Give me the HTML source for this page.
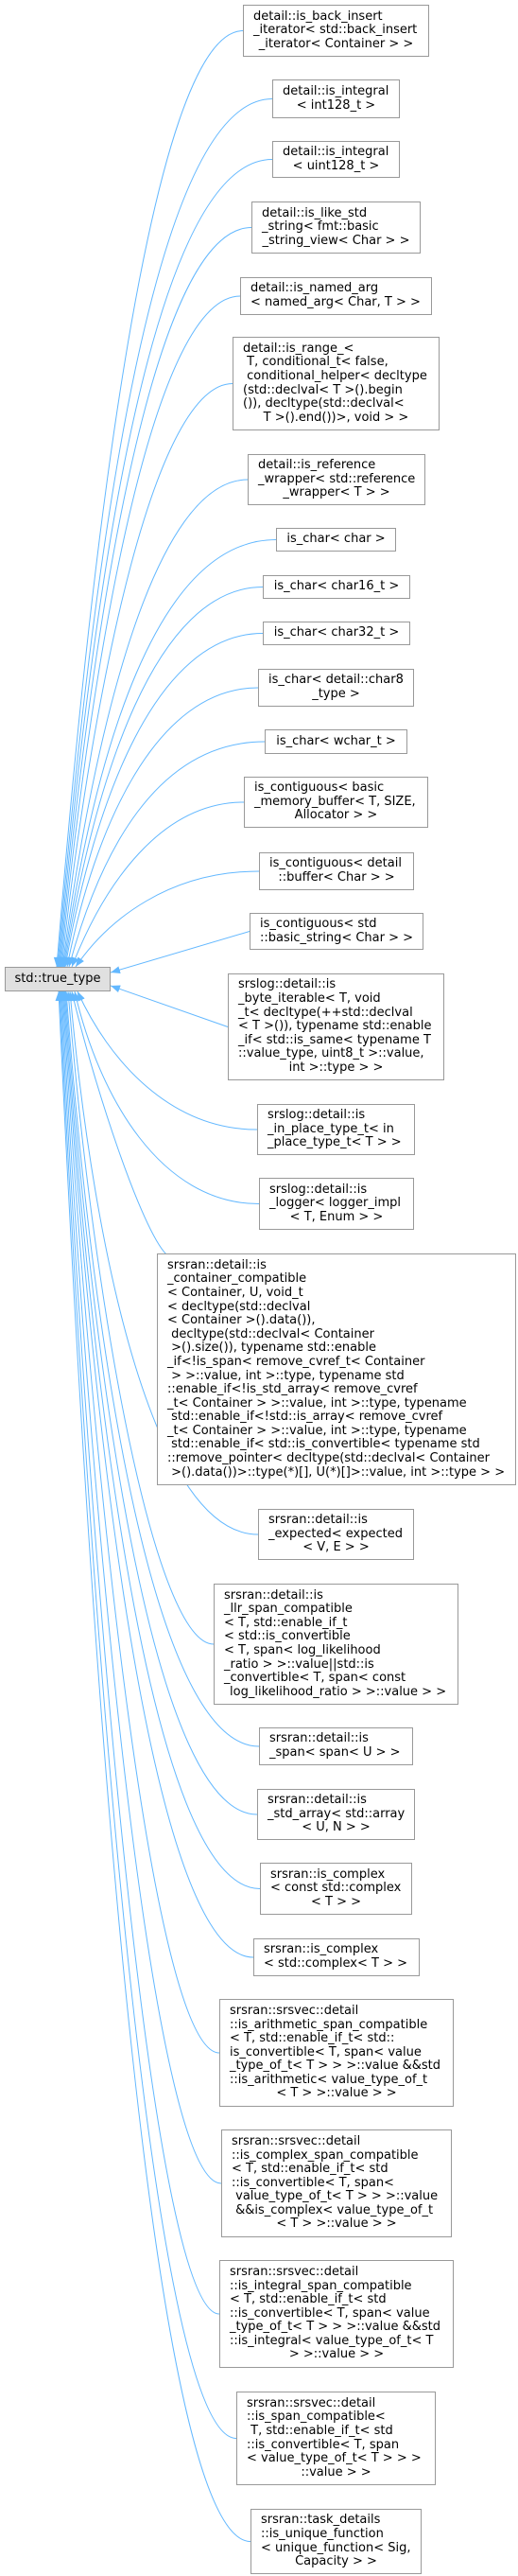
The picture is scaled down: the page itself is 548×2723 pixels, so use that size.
<!DOCTYPE html>
<html><head><meta charset="utf-8"><style>
html,body{margin:0;padding:0;background:#fff}
body{width:548px;height:2723px;position:relative;overflow:hidden;font-family:"DejaVu Sans","Liberation Sans",sans-serif;font-size:13px;color:#000}
.b{position:absolute;box-sizing:border-box;border:1px solid #999;background:#fff;display:flex;flex-direction:column;justify-content:center;padding:0 10px;line-height:14.6px;white-space:pre}
.b div:last-child{text-align:center}
.b div.l{text-align:left}
svg{position:absolute;left:0;top:0}
</style></head><body>
<svg width="548" height="2723" viewBox="0 0 548 2723">
<defs><marker id="a" markerUnits="userSpaceOnUse" markerWidth="11" markerHeight="9" refX="10" refY="4" orient="auto"><path d="M0,0 L10,4 L0,8 z" fill="#63b8ff"/></marker></defs>
<g fill="none" stroke="#63b8ff" stroke-width="1" marker-end="url(#a)">
<path d="M257,32.5 C165,32.5 100,527 60,1022"/>
<path d="M288,104.5 C165,104.5 100,563 61,1022"/>
<path d="M288,168.5 C165,168.5 100,595 62,1022"/>
<path d="M266,240.5 C165,240.5 100,631 63,1022"/>
<path d="M254,313 C165,313 100,667 64,1022"/>
<path d="M246,405.5 C165,405.5 100,714 65,1022"/>
<path d="M262,507 C165,507 100,764 66,1022"/>
<path d="M292,570.5 C165,570.5 100,796 67,1022"/>
<path d="M278,620.5 C165,620.5 100,821 68,1022"/>
<path d="M278,669.5 C165,669.5 100,846 69,1022"/>
<path d="M273,727 C165,727 100,874 71,1022"/>
<path d="M280,784 C165,784 105,903 73,1022"/>
<path d="M258,848 C170,848 110,935 76,1022"/>
<path d="M274,921 C180,921 115,971 80,1022"/>
<path d="M264,984.5 L117,1028"/>
<path d="M241,1085.5 L117,1042"/>
<path d="M272,1194 C180,1194 115,1121 82,1048"/>
<path d="M274,1272.5 C170,1272.5 105,1160 79,1048"/>
<path d="M176,1326 C150,1300 100,1150 76,1048"/>
<path d="M273,1622 C165,1622 100,1335 74,1048"/>
<path d="M226,1738 C165,1738 100,1393 72,1048"/>
<path d="M274,1846 C165,1846 100,1447 70,1048"/>
<path d="M272,1918 C165,1918 100,1483 69,1048"/>
<path d="M275,1996.5 C165,1996.5 100,1522 68,1048"/>
<path d="M268,2069 C165,2069 100,1558 67,1048"/>
<path d="M232,2170 C165,2170 100,1609 66,1048"/>
<path d="M234,2308 C165,2308 100,1678 65,1048"/>
<path d="M232,2446 C165,2446 100,1747 64,1048"/>
<path d="M250,2577.5 C165,2577.5 100,1813 63,1048"/>
<path d="M265,2686.5 C165,2686.5 100,1867 62,1048"/>
</g>
</svg>

<div class="b" style="left:5px;top:1022px;width:112px;height:26px;background:#e0e0e0;padding:0"><div>std::true_type</div></div>

<div class="b" style="left:257px;top:5px;width:197px;height:55px"><div>detail::is_back_insert</div><div>_iterator&lt; std::back_insert</div><div>_iterator&lt; Container &gt; &gt;</div></div>
<div class="b" style="left:288px;top:84px;width:135px;height:41px"><div>detail::is_integral</div><div>&lt; int128_t &gt;</div></div>
<div class="b" style="left:288px;top:149px;width:135px;height:39px"><div>detail::is_integral</div><div>&lt; uint128_t &gt;</div></div>
<div class="b" style="left:266px;top:213px;width:179px;height:55px"><div>detail::is_like_std</div><div>_string&lt; fmt::basic</div><div>_string_view&lt; Char &gt; &gt;</div></div>
<div class="b" style="left:254px;top:293px;width:203px;height:40px"><div>detail::is_named_arg</div><div class="l">&lt; named_arg&lt; Char, T &gt; &gt;</div></div>
<div class="b" style="left:246px;top:356px;width:219px;height:99px"><div>detail::is_range_&lt;</div><div> T, conditional_t&lt; false,</div><div> conditional_helper&lt; decltype</div><div>(std::declval&lt; T &gt;().begin</div><div>()), decltype(std::declval&lt;</div><div>T &gt;().end())&gt;, void &gt; &gt;</div></div>
<div class="b" style="left:262px;top:480px;width:188px;height:54px"><div>detail::is_reference</div><div>_wrapper&lt; std::reference</div><div>_wrapper&lt; T &gt; &gt;</div></div>
<div class="b" style="left:292px;top:558px;width:127px;height:25px"><div>is_char&lt; char &gt;</div></div>
<div class="b" style="left:278px;top:608px;width:156px;height:25px"><div>is_char&lt; char16_t &gt;</div></div>
<div class="b" style="left:278px;top:657px;width:156px;height:25px"><div>is_char&lt; char32_t &gt;</div></div>
<div class="b" style="left:273px;top:707px;width:165px;height:40px"><div>is_char&lt; detail::char8</div><div>_type &gt;</div></div>
<div class="b" style="left:280px;top:771px;width:151px;height:26px"><div>is_char&lt; wchar_t &gt;</div></div>
<div class="b" style="left:258px;top:821px;width:195px;height:54px"><div>is_contiguous&lt; basic</div><div>_memory_buffer&lt; T, SIZE,</div><div>Allocator &gt; &gt;</div></div>
<div class="b" style="left:274px;top:901px;width:164px;height:40px"><div>is_contiguous&lt; detail</div><div>::buffer&lt; Char &gt; &gt;</div></div>
<div class="b" style="left:264px;top:965px;width:184px;height:39px"><div>is_contiguous&lt; std</div><div class="l">::basic_string&lt; Char &gt; &gt;</div></div>
<div class="b" style="left:241px;top:1029px;width:229px;height:113px"><div>srslog::detail::is</div><div>_byte_iterable&lt; T, void</div><div>_t&lt; decltype(++std::declval</div><div>&lt; T &gt;()), typename std::enable</div><div>_if&lt; std::is_same&lt; typename T</div><div>::value_type, uint8_t &gt;::value,</div><div>int &gt;::type &gt; &gt;</div></div>
<div class="b" style="left:272px;top:1167px;width:167px;height:54px"><div>srslog::detail::is</div><div>_in_place_type_t&lt; in</div><div class="l">_place_type_t&lt; T &gt; &gt;</div></div>
<div class="b" style="left:274px;top:1245px;width:164px;height:55px"><div>srslog::detail::is</div><div>_logger&lt; logger_impl</div><div>&lt; T, Enum &gt; &gt;</div></div>
<div class="b" style="left:166px;top:1325px;width:380px;height:245px"><div>srsran::detail::is</div><div>_container_compatible</div><div>&lt; Container, U, void_t</div><div>&lt; decltype(std::declval</div><div>&lt; Container &gt;().data()),</div><div> decltype(std::declval&lt; Container</div><div> &gt;().size()), typename std::enable</div><div>_if&lt;!is_span&lt; remove_cvref_t&lt; Container</div><div> &gt; &gt;::value, int &gt;::type, typename std</div><div>::enable_if&lt;!is_std_array&lt; remove_cvref</div><div>_t&lt; Container &gt; &gt;::value, int &gt;::type, typename</div><div> std::enable_if&lt;!std::is_array&lt; remove_cvref</div><div>_t&lt; Container &gt; &gt;::value, int &gt;::type, typename</div><div> std::enable_if&lt; std::is_convertible&lt; typename std</div><div>::remove_pointer&lt; decltype(std::declval&lt; Container</div><div class="l"> &gt;().data())&gt;::type(*)[], U(*)[]&gt;::value, int &gt;::type &gt; &gt;</div></div>
<div class="b" style="left:273px;top:1595px;width:165px;height:54px"><div>srsran::detail::is</div><div>_expected&lt; expected</div><div>&lt; V, E &gt; &gt;</div></div>
<div class="b" style="left:226px;top:1674px;width:259px;height:128px"><div>srsran::detail::is</div><div>_llr_span_compatible</div><div>&lt; T, std::enable_if_t</div><div>&lt; std::is_convertible</div><div>&lt; T, span&lt; log_likelihood</div><div>_ratio &gt; &gt;::value||std::is</div><div>_convertible&lt; T, span&lt; const</div><div> log_likelihood_ratio &gt; &gt;::value &gt; &gt;</div></div>
<div class="b" style="left:274px;top:1826px;width:163px;height:40px"><div>srsran::detail::is</div><div class="l">_span&lt; span&lt; U &gt; &gt;</div></div>
<div class="b" style="left:272px;top:1891px;width:167px;height:54px"><div>srsran::detail::is</div><div>_std_array&lt; std::array</div><div>&lt; U, N &gt; &gt;</div></div>
<div class="b" style="left:275px;top:1969px;width:161px;height:55px"><div>srsran::is_complex</div><div>&lt; const std::complex</div><div>&lt; T &gt; &gt;</div></div>
<div class="b" style="left:268px;top:2049px;width:176px;height:40px"><div>srsran::is_complex</div><div class="l">&lt; std::complex&lt; T &gt; &gt;</div></div>
<div class="b" style="left:232px;top:2113px;width:248px;height:114px"><div>srsran::srsvec::detail</div><div>::is_arithmetic_span_compatible</div><div>&lt; T, std::enable_if_t&lt; std::</div><div>is_convertible&lt; T, span&lt; value</div><div>_type_of_t&lt; T &gt; &gt; &gt;::value &amp;&amp;std</div><div>::is_arithmetic&lt; value_type_of_t</div><div>&lt; T &gt; &gt;::value &gt; &gt;</div></div>
<div class="b" style="left:234px;top:2251px;width:244px;height:114px"><div>srsran::srsvec::detail</div><div>::is_complex_span_compatible</div><div>&lt; T, std::enable_if_t&lt; std</div><div>::is_convertible&lt; T, span&lt;</div><div> value_type_of_t&lt; T &gt; &gt; &gt;::value</div><div> &amp;&amp;is_complex&lt; value_type_of_t</div><div>&lt; T &gt; &gt;::value &gt; &gt;</div></div>
<div class="b" style="left:232px;top:2389px;width:248px;height:114px"><div>srsran::srsvec::detail</div><div>::is_integral_span_compatible</div><div>&lt; T, std::enable_if_t&lt; std</div><div>::is_convertible&lt; T, span&lt; value</div><div>_type_of_t&lt; T &gt; &gt; &gt;::value &amp;&amp;std</div><div>::is_integral&lt; value_type_of_t&lt; T</div><div>&gt; &gt;::value &gt; &gt;</div></div>
<div class="b" style="left:250px;top:2528px;width:211px;height:99px"><div>srsran::srsvec::detail</div><div>::is_span_compatible&lt;</div><div> T, std::enable_if_t&lt; std</div><div>::is_convertible&lt; T, span</div><div>&lt; value_type_of_t&lt; T &gt; &gt; &gt;</div><div>::value &gt; &gt;</div></div>
<div class="b" style="left:265px;top:2652px;width:181px;height:69px"><div>srsran::task_details</div><div>::is_unique_function</div><div>&lt; unique_function&lt; Sig,</div><div>Capacity &gt; &gt;</div></div>
</body></html>
